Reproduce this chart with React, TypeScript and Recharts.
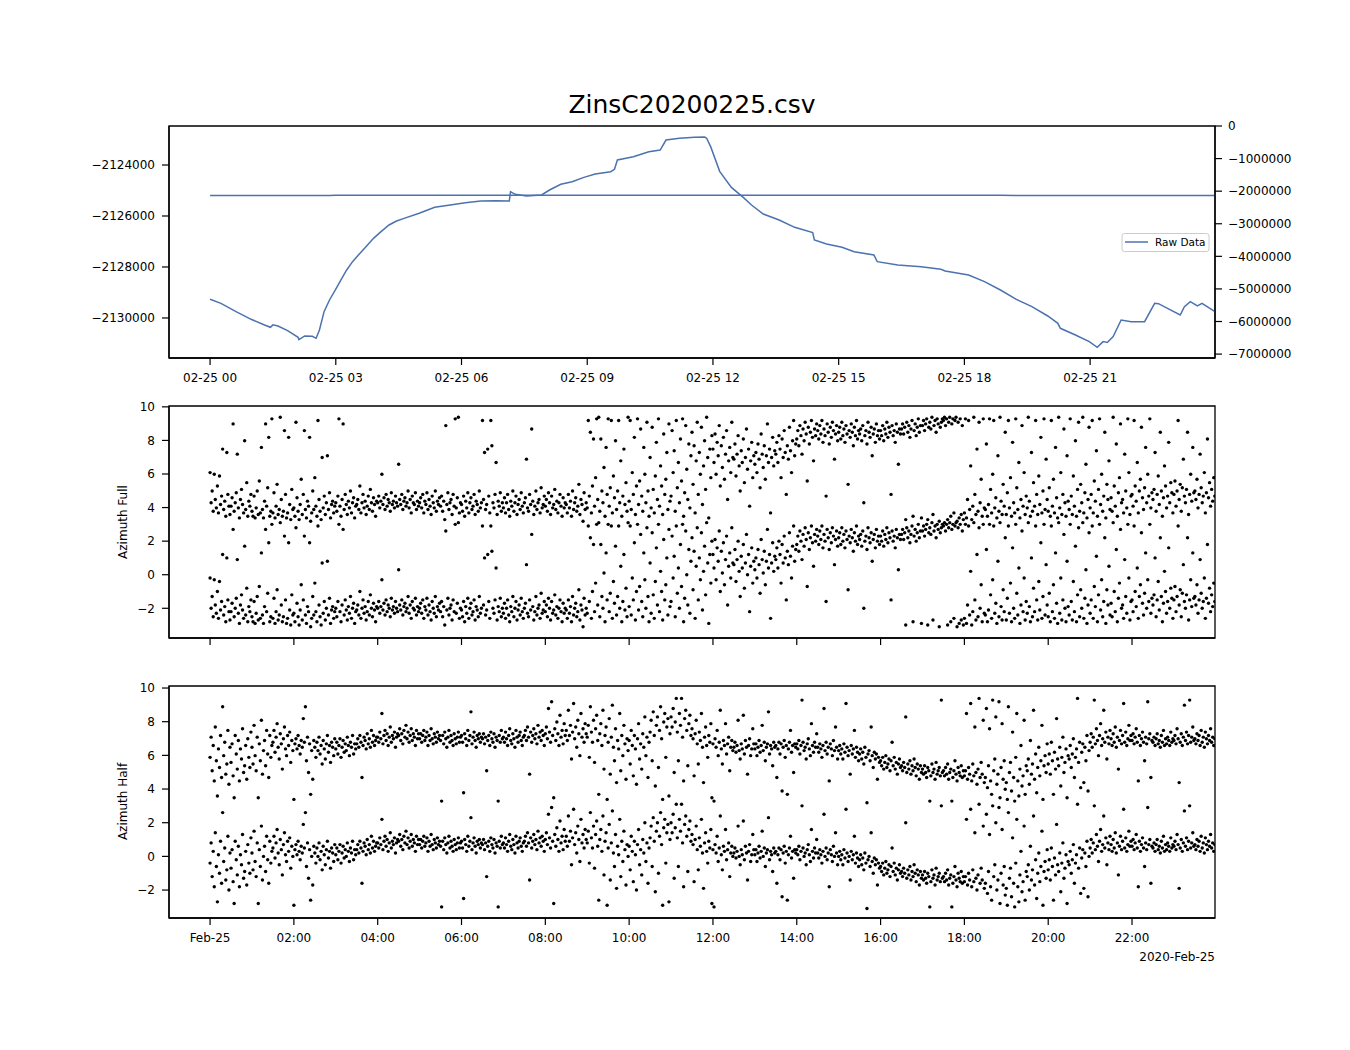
import React from 'react';
import { ComposedChart, ScatterChart, Scatter, Line, XAxis, YAxis, ReferenceArea } from 'recharts';

// ---------- Top panel: raw data (hours since 02-25 00:00, value) ----------
const rawHours = [
  0.0, 0.26, 0.62, 0.98, 1.3, 1.44, 1.5, 1.62, 1.85, 2.1, 2.12, 2.26, 2.44, 2.53, 2.61, 2.72, 2.85, 2.99,
  3.13, 3.26, 3.4, 3.54, 3.72, 3.9, 4.08, 4.27, 4.45, 4.63, 4.99, 5.36, 5.73, 6.09, 6.46, 6.82, 7.14, 7.17, 7.28, 7.55, 7.91,
  8.1, 8.37, 8.64, 8.92, 9.19, 9.56, 9.65, 9.72, 10.1, 10.47, 10.74, 10.88, 11.2, 11.56, 11.8,
  11.85, 11.95, 12.16, 12.44, 12.73, 12.92, 13.2, 13.58, 13.95, 14.38, 14.42, 14.71, 15.08, 15.37,
  15.84, 15.92, 16.41, 16.97, 17.44, 17.54, 18.1, 18.48, 18.86, 19.24, 19.61, 19.99, 20.23, 20.29,
  20.65, 20.98, 21.17, 21.31, 21.41, 21.55, 21.74, 21.98, 22.3, 22.54, 22.63, 23.15, 23.25, 23.39,
  23.56, 23.67, 23.98,
];
const rawValues = [
  -2129268, -2129425, -2129750, -2130052, -2130275, -2130366, -2130270, -2130314, -2130497, -2130758,
  -2130850, -2130706, -2130720, -2130797, -2130470, -2129752, -2129294, -2128902, -2128484, -2128118,
  -2127791, -2127529, -2127203, -2126876, -2126614, -2126353, -2126196, -2126092, -2125895, -2125660,
  -2125569, -2125477, -2125412, -2125399, -2125412, -2125046,
  -2125150, -2125216, -2125176, -2124980, -2124758, -2124654, -2124484, -2124353, -2124261, -2124170,
  -2123804, -2123673, -2123477, -2123412, -2123020, -2122954, -2122915, -2122900, -2122950, -2123300,
  -2124250, -2124880, -2125280, -2125569, -2125922, -2126157, -2126444, -2126653, -2126941, -2127098,
  -2127229, -2127399, -2127529, -2127791, -2127922, -2127987, -2128092, -2128157, -2128314, -2128575,
  -2128902, -2129268, -2129556, -2129922, -2130209, -2130405, -2130667, -2130928, -2131150, -2130928,
  -2130960, -2130732, -2130078, -2130144, -2130144, -2129425, -2129440, -2129882, -2129556, -2129360,
  -2129530, -2129425, -2129752,
];

const topTicks = [0, 3, 6, 9, 12, 15, 18, 21];
const topTickLabels = ['02-25 00', '02-25 03', '02-25 06', '02-25 09', '02-25 12', '02-25 15', '02-25 18', '02-25 21'];
const leftTicks = [-2130000, -2128000, -2126000, -2124000];
const rightTicks = [0, -1000000, -2000000, -3000000, -4000000, -5000000, -6000000, -7000000];

// ---------- Scatter panels: one sample every 1.5 min (40 per hour), 20 per row = half an hour ----------
const SAMPLES_PER_HOUR = 40;
const azimuthFull = [
  -0.2, -2.0, -1.3, -2.5, -0.3, -1.8, -2.3, -1.0, -2.6, -0.4, -2.1, -1.6, 1.2, -2.4, -1.9, -2.8, 1.0, -1.5, -2.2, -2.7,
  -2.2, -1.7, 2.7, -2.5, -2.0, -1.4, 0.9, -2.3, -2.9, -1.8, -1.2, -2.1, -2.6, 1.7, -2.4, -0.8, -2.8, -1.9, -2.2, -1.5,
  -2.5, -2.8, -1.6, -2.9, -2.3, -1.3, -2.7, -0.7, -2.6, 1.3, -2.4, -2.9, -1.9, 2.7, -2.2, -1.1, 1.9, -2.8, -2.5, 3.0,
  -2.6, -1.4, -2.9, -2.2, -0.9, -2.7, -2.4, 3.1, -1.8, -2.8, -2.5, 2.3, -1.5, -2.9, -2.6, 1.9, -2.1, -3.0, -1.2, -2.4,
  -2.3, -2.8, 2.8, -1.7, -2.5, -3.0, -2.1, -0.6, -2.7, -1.5, 2.3, -2.4, -2.9, -1.9, -2.2, 1.9, -3.1, -2.6, -1.3, -2.4,
  -0.5, -2.2, -2.8, 2.9, -1.8, -2.5, -3.0, 0.7, -2.3, -1.6, -2.7, -2.0, 0.8, -2.4, -1.4, -2.9, -2.1, -1.9, -2.6, -2.2,
  -2.0, -2.5, -1.6, 3.0, -2.2, -2.8, -1.8, 2.7, -2.4, -1.5, -2.1, -2.7, -1.9, -2.3, -1.3, -2.6, -2.0, -1.7, -2.9, -2.2,
  -2.1, -1.8, -2.4, -1.0, -2.6, -2.0, -1.5, -2.3, -1.9, -2.7, -2.2, -1.6, -2.4, -1.2, -2.0, -2.5, -1.7, -2.1, -2.8, -1.9,
  -2.0, -1.6, -2.3, -1.9, -0.3, -2.1, -1.7, -2.4, -1.5, -2.2, -1.8, -2.0, -2.5, -1.4, -2.1, -1.9, -2.3, -1.6, -2.0, -2.2,
  0.3, -1.8, -2.1, -1.5, -2.4, -1.9, -1.7, -2.2, -2.0, -1.3, -2.3, -1.8, -2.6, -1.6, -2.0, -2.1, -1.4, -2.4, -1.9, -2.2,
  -2.0, -1.7, -2.3, -1.5, -2.6, -1.9, -2.1, -1.4, -2.4, -1.8, -2.2, -2.7, -1.6, -2.0, -2.3, -1.3, -2.5, -1.9, -2.1, -1.7,
  -2.2, -1.6, -2.5, -1.9, -3.0, 2.6, -2.1, -1.4, -2.4, -2.0, -1.8, -2.7, -1.5, -2.2, 3.0, -2.3, -1.7, 3.1, -2.6, -2.0,
  -2.1, -2.5, -1.6, -2.8, -1.9, -2.3, -1.4, -2.6, -2.0, -1.7, -2.4, -2.2, -1.5, -2.7, -1.9, -2.1, -2.5, -1.3, -2.3, -2.0,
  2.9, -1.8, 1.0, -2.4, -2.1, 1.2, -1.6, -2.6, 2.9, 1.4, -2.0, -2.3, -1.5, 0.4, -2.7, -1.9, -2.2, -1.4, -2.5, -2.0,
  -2.3, -1.7, -2.6, -2.0, -1.5, -2.4, -2.8, -1.9, -2.2, -1.3, -2.5, -2.0, -1.6, -2.7, -2.1, -1.8, -2.4, -1.4, -2.2, -2.6,
  -2.0, -1.7, 0.6, -2.3, -2.5, -1.5, -2.1, 2.4, -1.9, -2.7, -2.2, -1.3, -2.4, -2.0, -1.8, -2.6, -1.1, -2.3, -2.1, -1.6,
  -2.2, -1.8, -2.5, -1.4, -2.0, -2.7, -1.6, -2.3, -2.1, -1.2, -2.4, -1.9, -2.6, -2.0, -1.5, -2.2, -2.8, -1.7, -2.3, -2.0,
  -2.1, -2.6, -1.5, -2.3, -1.9, -2.8, -1.3, -2.4, -2.0, -1.7, -2.5, -2.2, -0.9, -2.7, -1.8, -2.1, -3.1, -1.4, -2.4, -2.0,
  -2.3, 2.9, -1.6, 2.2, -2.6, -1.0, 1.8, -2.2, -0.5, 3.0, -1.8, 3.1, -2.5, 1.8, -1.3, -2.0, 0.1, -2.8, 1.3, -1.5,
  3.0, -2.2, -1.1, 2.9, -2.6, -0.4, -1.7, 1.7, -2.4, -1.3, 2.9, -2.0, 0.5, -2.8, -1.6, 1.2, -2.1, -0.8, -2.5, 3.1,
  -1.9, 2.9, -2.4, -0.2, -1.5, 1.9, -2.7, -1.0, 3.0, -2.1, -0.7, 2.4, -1.6, -2.5, 1.3, -0.3, -2.0, 2.8, -1.3, -2.8,
  0.7, -2.3, 2.5, -1.2, -2.6, -0.4, 1.6, -1.8, 3.0, -2.2, 0.2, -1.0, -2.7, 2.1, -1.5, -0.6, 1.0, -2.4, 2.7, -1.9,
  -1.6, 2.3, -0.2, 1.1, -2.5, 2.9, -1.1, 0.4, -2.0, 1.8, -0.7, 3.0, -2.8, -1.4, 2.6, 0.0, -1.8, 1.5, -2.3, 0.8,
  2.2, -0.9, 1.4, -2.6, 0.5, 2.8, -1.5, 1.0, -0.3, 2.5, -2.1, 0.2, 1.7, -1.2, 3.1, 0.7, -2.9, 1.2, -0.5, 2.0,
  1.2, 0.4, 2.1, -0.3, 1.6, 0.8, 2.6, -1.0, 1.4, 0.1, 1.9, -0.6, 0.9, 2.3, -1.8, 0.5, 1.3, -0.2, 2.8, 0.7,
  0.6, 1.5, -0.4, 0.9, 2.0, 0.2, -1.3, 1.1, 0.4, 1.8, -0.8, 0.7, 2.4, 0.0, 1.2, -2.2, 0.5, 1.6, -0.5, 0.8,
  0.3, 1.0, -0.2, 1.5, 0.6, -1.1, 2.1, 0.9, 0.1, 1.4, -0.6, 0.8, 2.7, 0.4, 1.2, -2.6, 0.7, 1.9, 0.2, 1.1,
  0.9, 1.6, 0.4, 2.0, 1.2, -0.5, 1.8, 0.7, 2.3, 1.0, -1.5, 1.4, 0.6, 2.5, 1.1, -0.2, 1.7, 2.9, 0.8, 1.5,
  1.8, 2.3, 1.4, 2.6, 2.0, 0.9, 2.4, 1.7, 2.8, 2.1, -0.7, 2.5, 1.5, 2.2, 2.9, 1.9, 0.5, 2.4, 2.0, 2.7,
  2.3, 1.8, 2.6, 2.1, 2.9, 1.6, 2.4, 2.0, -1.6, 2.7, 2.2, 1.5, 2.5, 1.9, 2.8, 2.3, 0.6, 2.1, 2.6, 1.7,
  2.2, 2.5, 1.8, 2.8, 2.0, 2.4, 1.6, 2.6, 2.1, -0.9, 2.3, 1.9, 2.7, 2.2, 1.4, 2.5, 2.0, 2.9, 1.8, 2.3,
  2.1, 2.4, 1.7, 2.6, -2.0, 2.0, 2.3, 1.5, 2.8, 2.2, 1.9, 2.5, 0.8, 2.1, 2.4, 1.6, 2.7, 2.0, 2.3, 1.8,
  2.3, 2.0, 2.6, 1.7, 2.4, 2.1, 2.8, 1.9, 2.5, 2.2, -1.5, 2.6, 2.0, 2.3, 1.6, 2.7, 2.2, 0.3, 2.4, 2.1,
  2.4, 2.7, 2.1, 2.5, -3.0, 2.8, 2.2, 2.6, 1.9, 2.4, 2.9, -2.8, 2.3, 2.7, 2.0, 2.5, 3.0, 2.2, 2.6, -2.9,
  2.6, 2.9, 2.3, 2.7, 3.0, -3.0, 2.5, 2.8, 2.4, 3.1, -2.7, 2.6, 2.9, 2.2, 3.0, 2.7, -3.1, 2.5, 2.8, 3.0,
  2.9, 3.1, 2.6, 3.0, -3.0, 2.8, 3.1, -2.8, 2.7, 3.0, -2.6, 2.9, 3.1, -3.1, 2.8, -2.9, 3.0, -2.7, 2.6, -3.0,
  -2.6, 3.0, -2.9, -1.8, 2.9, -2.4, 0.2, -3.0, -2.2, 3.1, -1.5, -2.7, 1.2, -2.5, 2.8, -2.0, -0.6, -2.8, 3.0, -2.3,
  -2.4, 1.5, -2.8, -2.1, 3.0, -1.2, -2.6, -0.3, 2.9, -2.3, -1.7, -2.9, 0.8, -2.5, 3.1, -1.9, -2.7, -0.9, -2.2, 2.2,
  -2.7, -1.4, 2.9, -2.3, -0.5, -2.8, 1.6, -2.0, -2.6, 3.0, -1.1, -2.4, 0.4, -2.9, -1.8, 2.6, -2.2, -0.2, -2.7, -1.6,
  -2.3, 3.1, -1.9, -2.8, 1.0, -2.5, -0.8, -2.2, 2.9, -1.5, -2.7, -0.4, -2.1, 1.9, -2.6, -1.3, 3.0, -2.4, 0.6, -1.8,
  -2.5, -1.1, -2.8, 2.9, -2.2, -0.6, -2.6, 1.3, -1.7, -2.9, 3.1, -2.3, -0.2, -2.7, -1.5, 2.4, -2.0, -2.8, 0.8, -1.9,
  -2.4, 3.0, -1.6, -2.7, -0.4, -2.2, 1.7, -2.8, -1.2, 2.8, -2.5, -0.9, -2.0, 3.1, -2.6, -1.4, 0.3, -2.9, -1.8, 2.5,
  -2.3, -1.5, 2.9, -2.6, -0.7, -1.9, 1.1, -2.8, -1.2, 3.0, -2.1, -0.3, -2.5, -1.6, 2.2, -2.9, -0.9, -1.8, 0.5, -2.4,
  -1.7, -2.5, 3.1, -1.0, -2.2, 1.5, -2.8, -1.4, -0.5, 2.7, -2.0, -1.8, -2.6, 0.9, -1.3, -2.3, 3.0, -0.2, -2.7, -1.6,
  -1.5, -2.2, 2.9, -1.0, -1.9, 0.4, -2.6, -1.3, -0.6, 2.5, -1.7, -2.4, -1.1, 1.3, -2.0, -0.3, -1.6, 3.0, -2.3, -1.4,
  -1.8, -1.2, 1.0, -2.5, -1.5, -0.4, -2.1, 2.2, -1.3, -2.8, -1.7, 0.2, -1.0, -2.3, -1.6, 1.6, -2.0, -0.8, -1.4, -2.6,
  -1.5, -0.7, -2.2, -1.3, 2.9, -1.8, -0.9, -2.5, -1.1, 0.6, -1.6, -2.0, -1.2, 2.2, -2.7, -1.5, -0.3, -1.9, 1.3, -1.4,
  -1.3, -1.8, -0.6, -2.3, -1.5, 0.9, -1.1, -2.0, -1.6, -0.2, -2.6, -1.4, 1.8, -1.7, -0.8, -2.2, -1.2, -1.9, -0.5, -1.6,
];
const azimuthHalf = [
  -0.4, 0.8, -1.2, 0.3, -1.8, 1.4, -0.6, -2.7, 0.1, -1.0, 0.9, -1.6, 2.6, -0.3, 0.5, -1.4, -0.8, 1.2, -2.0, 0.2,
  -0.7, 0.4, -1.5, -2.8, 0.9, -0.2, -1.1, 0.6, -1.8, 0.1, -0.5, 1.3, -1.3, -0.9, 0.3, -1.7, 0.7, -0.4, -1.0, 1.1,
  0.2, -0.8, 1.5, -0.3, -1.2, 0.8, -2.8, 0.4, -0.6, 1.8, -1.4, 0.0, 0.6, -0.9, 1.2, -0.2, -1.6, 0.9, -0.4, 0.3,
  0.5, 1.2, -0.1, 0.8, 1.6, 0.2, -0.5, 1.0, 0.4, -1.1, 0.7, 1.4, 0.1, -0.3, 0.9, 0.3, 1.1, -0.7, 0.6, 0.0,
  -2.9, 0.4, 0.7, 0.1, 0.9, 0.3, -0.2, 0.6, 0.2, 1.9, 0.5, 2.6, -0.6, 0.8, -1.3, 0.4, -2.6, 0.0, -1.7, 0.6,
  0.2, -0.4, 0.5, 0.0, 0.8, -0.2, 0.3, -0.8, 0.6, 0.1, -0.5, 0.4, 0.9, -0.1, 0.3, -0.7, 0.5, 0.2, -0.3, 0.7,
  0.1, 0.5, -0.2, 0.3, 0.7, -0.4, 0.2, 0.6, -0.1, 0.4, 0.0, 0.8, 0.3, -0.3, 0.5, 0.2, 0.9, -0.2, 0.4, 0.1,
  0.4, 0.7, 0.2, 0.9, 0.5, -1.6, 0.3, 0.8, 0.6, 0.1, 1.0, 0.4, 0.7, 0.2, 1.2, 0.5, 0.9, 0.3, 0.6, 0.8,
  0.8, 0.5, 1.1, 0.7, 2.2, 0.4, 0.9, 1.2, 0.6, 1.0, 0.3, 0.8, 1.4, 0.5, 0.9, 0.7, 1.1, 0.2, 0.8, 1.0,
  0.9, 1.3, 0.6, 1.0, 0.4, 1.2, 0.8, 1.5, 0.7, 1.1, 0.5, 0.9, 1.3, 0.6, 1.0, 0.8, 0.3, 1.2, 0.7, 1.0,
  0.7, 1.0, 0.5, 0.9, 1.2, 0.6, 0.8, 1.1, 0.3, 0.9, 0.6, 1.3, 0.7, 0.4, 1.0, 0.8, 0.5, 1.1, 0.7, 0.9,
  0.6, -3.0, 0.9, 0.4, 1.1, 0.7, 0.2, 0.8, 1.2, 0.5, 0.9, 0.6, 0.3, 1.0, 0.7, 0.4, 0.8, 1.1, 0.5, 0.8,
  0.9, 0.5, -2.5, 1.0, 0.7, 0.3, 1.2, 0.6, 0.9, 2.3, 0.4, 0.8, 1.1, 0.6, 0.2, 0.9, 0.7, 1.0, 0.5, 0.8,
  0.7, 1.0, 0.4, 0.8, -1.2, 0.6, 0.9, 0.3, 1.1, 0.7, 0.5, 1.0, 0.2, 0.8, 0.6, -3.0, 0.9, 0.5, 1.2, 0.7,
  0.8, 0.5, 1.1, 0.7, 0.3, 0.9, 1.3, 0.6, 0.4, 1.0, 0.7, 0.2, 1.2, 0.8, 0.5, 0.9, 1.1, 0.6, 0.3, 0.8,
  0.9, 1.2, 0.6, 1.4, 0.8, -1.4, 1.1, 0.5, 0.9, 1.3, 0.7, 1.0, 0.4, 1.5, 0.8, 1.1, 0.6, 1.2, 0.9, 0.3,
  1.0, 1.4, 0.7, 2.5, 1.1, 0.5, 2.9, 0.9, -2.8, 1.3, 0.6, 1.7, 1.0, 0.3, 2.1, 0.8, 1.2, 0.4, 1.6, 0.9,
  1.2, 0.6, 2.4, 0.9, 1.5, -0.5, 1.1, 2.8, 0.7, 1.4, 0.2, 1.8, 1.0, -0.3, 2.2, 0.8, 1.3, 0.5, 1.6, 1.0,
  0.8, 1.5, -0.4, 2.6, 1.1, 0.5, 1.8, -0.7, 1.3, 2.1, 0.6, -2.6, 1.0, 1.6, 0.3, 2.4, -1.1, 0.9, 1.4, -2.9,
  0.5, 1.9, -1.4, 0.8, 2.7, 0.2, -0.6, 1.3, -1.9, 0.6, 0.1, 2.2, -1.2, 0.9, -0.3, 1.5, 0.4, -1.7, 0.7, 0.0,
  0.6, -0.8, 1.2, 0.3, -1.5, 0.9, 0.1, -2.0, 0.7, 1.6, -0.5, 0.4, -1.1, 1.0, 0.2, 2.0, -0.3, 0.8, -1.6, 0.5,
  1.1, 1.8, -0.6, 2.3, 0.9, -2.1, 1.5, 2.0, -1.0, 1.2, 2.6, 0.7, -2.9, 1.7, 2.2, -0.4, 1.4, 1.9, -2.7, 1.0,
  2.0, 1.4, 2.5, -1.3, 1.7, 3.1, 1.1, -0.6, 2.2, 1.5, 3.1, 0.8, -1.8, 1.9, 2.4, 1.2, -0.9, 1.6, 2.1, 0.9,
  1.3, 0.7, -1.5, 1.0, 1.8, 0.4, -0.8, 1.1, 0.6, 2.2, 0.2, -1.9, 0.8, 1.4, 0.3, -0.4, 0.9, 0.5, 1.6, -2.8,
  0.4, -3.0, 0.7, 0.2, 1.2, -0.3, 0.5, 2.4, 0.1, -0.8, 0.6, 0.3, 1.6, -0.2, 0.4, 0.8, -1.2, 0.2, 0.6, 0.0,
  0.2, 0.5, -0.1, 0.3, 1.8, 0.0, -0.5, 0.4, 0.1, 2.1, -0.2, 0.6, 0.2, -1.4, 0.3, 0.7, -0.3, 0.1, 1.3, 0.4,
  0.1, 0.4, -0.3, 0.2, 0.6, -0.1, 0.3, 1.5, 0.0, 0.5, -0.6, 0.2, 0.4, 2.3, -0.2, 0.3, 0.1, -0.9, 0.5, 0.2,
  0.3, -1.6, 0.1, 0.5, -0.2, 0.4, -2.4, 0.2, 0.6, -0.4, 0.3, -2.6, 0.1, 0.5, 1.2, -0.1, 0.3, -1.3, 0.4, 0.2,
  0.4, 0.1, 0.6, -0.2, 0.3, 3.0, 0.5, 0.0, 0.2, -0.5, 0.4, 0.7, 0.1, -0.3, 1.6, 0.3, -0.1, 0.5, 0.2, 1.0,
  0.2, -0.1, 0.4, 0.1, -0.4, 0.3, 2.5, 0.0, 0.5, -0.2, 0.2, -1.8, 0.4, 0.1, -0.3, 0.6, 0.0, 1.4, 0.2, -0.5,
  0.0, 0.3, -0.2, 0.1, -0.5, 0.4, -0.1, 2.8, 0.2, -0.3, 0.0, -1.4, 0.3, -0.2, 0.1, 1.2, -0.4, 0.2, -0.1, -0.6,
  -0.2, 0.1, -0.5, -0.1, -0.8, 0.2, -0.4, -3.1, -0.2, 0.0, -0.6, 1.4, -0.3, -1.0, -0.1, -0.5, -0.2, -1.7, -0.4, -0.7,
  -0.6, -0.9, -0.4, -1.1, -0.7, -0.3, -1.0, -0.8, -0.5, -1.2, -0.6, 0.5, -0.9, -0.4, -1.1, -0.7, -1.4, -0.8, -0.5, -1.0,
  -0.9, -1.2, -0.7, -1.0, 2.0, -1.3, -0.8, -1.1, -0.6, -1.4, -0.9, -1.2, -0.5, -1.0, -1.5, -0.8, -1.1, -1.7, -0.9, -1.3,
  -1.1, -1.4, -0.9, -1.3, -1.6, -1.0, -1.2, -3.0, -1.5, -0.8, -1.3, -1.1, -1.7, -0.7, -1.4, -1.2, -1.0, -1.5, 3.0, -1.3,
  -1.2, -1.5, -1.0, -1.4, -0.8, -1.7, -1.3, -1.1, -3.0, -1.6, -1.2, -0.6, -1.4, -1.8, -1.0, -1.3, -1.5, -0.9, -1.6, -1.2,
  -1.5, -1.2, 2.2, -1.7, -1.0, -1.4, 2.8, -1.8, -0.8, -1.5, 1.4, -1.3, -2.0, -1.1, 3.1, -1.6, -0.7, -1.4, 1.8, -1.9,
  -1.6, 2.5, -2.2, -0.9, 1.3, -1.8, -2.6, 3.0, -1.2, -0.5, 2.0, -2.0, -1.4, 2.9, -2.8, -1.0, 1.6, -1.7, -0.6, -2.3,
  -1.9, -2.9, 2.6, -1.3, -0.7, -2.4, 1.1, -1.6, -3.0, -0.4, 2.2, -1.8, -2.7, -1.1, 0.3, -2.1, -1.5, 1.8, -2.6, -0.9,
  -1.2, -0.5, -2.0, 0.6, -1.4, -0.8, 2.4, -1.7, -0.2, -2.5, -1.0, 0.2, -1.5, -0.6, 1.5, -2.9, -0.9, -0.3, -1.3, 0.4,
  -0.8, -0.2, -1.4, 0.5, -0.6, -2.6, -0.1, -1.1, 1.9, -0.5, -0.9, 0.2, -2.1, -0.4, 0.8, -1.3, -0.7, 0.1, -2.8, -0.3,
  -0.5, 0.3, -1.0, -0.2, 0.7, -1.6, -0.4, 0.1, 3.1, -0.7, 0.5, -2.2, -0.1, 0.4, -1.9, 0.2, -0.6, 0.9, -2.4, 0.0,
  0.5, 1.0, 0.2, 0.8, 3.0, 0.4, 1.3, 0.6, -0.3, 0.9, 1.6, 0.3, 0.7, 2.4, 0.5, 1.1, -0.5, 0.8, 0.4, 1.2,
  0.7, 0.3, 1.0, 0.5, 1.4, 0.2, 0.8, -1.1, 0.6, 1.2, 0.4, 0.9, 2.8, 0.5, 1.1, 0.3, 0.7, 1.5, 0.6, 0.9,
  0.6, 1.0, 0.4, 0.8, 1.3, 0.5, -1.8, 0.9, 0.3, 0.7, 1.1, 0.5, -0.6, 0.8, 0.4, 2.9, 0.7, 1.0, -1.6, 0.6,
  0.5, 0.8, 0.3, 0.7, 1.0, 0.4, 0.6, 0.2, 0.9, 0.5, 1.2, 0.3, 0.7, 0.4, 0.8, 0.6, 0.3, 1.1, 0.5, 0.7,
  0.6, 0.9, 0.4, 1.3, 0.7, -1.9, 0.5, 1.0, 0.3, 0.8, 2.7, 0.6, 1.1, 0.4, 0.9, 3.0, 0.5, 0.8, 1.4, 0.6,
  0.7, 0.4, 1.0, 0.6, 0.9, 0.3, 1.2, 0.5, 0.8, 0.2, 1.1, 0.7, 0.4, 0.9, 0.6, 1.3, 0.5, 0.8, 0.3, 0.7,
];

const scatterTicks = [0, 2, 4, 6, 8, 10, 12, 14, 16, 18, 20, 22];
const scatterTickLabels = ['Feb-25', '02:00', '04:00', '06:00', '08:00', '10:00', '12:00', '14:00', '16:00', '18:00', '20:00', '22:00'];
const azimuthTicks = [-2, 0, 2, 4, 6, 8, 10];

// ---------- derived tables ----------
const X_DOMAIN: [number, number] = [-0.98, 23.98];
const LEFT_DOMAIN: [number, number] = [-2131570, -2122470];
const RIGHT_DOMAIN: [number, number] = [-7120000, 0];
const FULL_DOMAIN: [number, number] = [-3.77, 10.05];
const HALF_DOMAIN: [number, number] = [-3.66, 10.12];

const rawData = rawHours.map((t, i) => ({ t, v: rawValues[i] }));

// each angle is drawn once as measured and once shifted by a full turn (2π), as in the source figure
const toPoints = (vals: number[]) => {
  const pts: { t: number; v: number }[] = [];
  vals.forEach((v, i) => {
    const t = i / SAMPLES_PER_HOUR;
    pts.push({ t, v });
    pts.push({ t, v: v + 2 * Math.PI });
  });
  return pts;
};
const fullPoints = toPoints(azimuthFull);
const halfPoints = toPoints(azimuthHalf);

const FONT = 'DejaVu Sans, sans-serif';
const LINE_COLOR = '#4c72b0';
const tickStyle = { fill: '#000', fontSize: 12, fontFamily: FONT };
const tickLineStyle = { stroke: '#000', strokeWidth: 1.2 };
const axisLineStyle = { stroke: '#000', strokeWidth: 1.3 };
const minus = (v: number) => String(v).replace('-', '\u2212');

const Dot = (props: any) => <circle cx={props.cx} cy={props.cy} r={1.7} fill="#000" />;

function ScatterPanel({ points, domain, showLabels }: { points: { t: number; v: number }[]; domain: [number, number]; showLabels: boolean }) {
  return (
    <ScatterChart width={1350} height={300} margin={{ top: 26, right: 135, bottom: 0, left: 0 }}>
      <XAxis
        type="number"
        dataKey="t"
        domain={X_DOMAIN}
        allowDataOverflow
        ticks={scatterTicks}
        tickFormatter={(v: number) => (showLabels ? scatterTickLabels[scatterTicks.indexOf(v)] ?? '' : '')}
        height={42}
        tick={tickStyle}
        tickLine={tickLineStyle}
        axisLine={axisLineStyle}
        tickSize={7}
        tickMargin={8}
        interval={0}
      />
      <YAxis
        type="number"
        dataKey="v"
        domain={domain}
        allowDataOverflow
        ticks={azimuthTicks}
        tickFormatter={minus}
        width={169}
        tick={tickStyle}
        tickLine={tickLineStyle}
        axisLine={axisLineStyle}
        tickSize={7}
        tickMargin={7}
        interval={0}
      />
      <ReferenceArea x1={X_DOMAIN[0]} x2={X_DOMAIN[1]} y1={domain[0]} y2={domain[1]} fill="none" stroke="#000" strokeWidth={1.3} />
      <Scatter data={points} shape={Dot} isAnimationActive={false} />
    </ScatterChart>
  );
}

export default function App() {
  return (
    <div style={{ position: 'absolute', left: 0, top: 0, width: 1350, height: 1050, background: '#fff', fontFamily: FONT }}>
      <div style={{ position: 'absolute', left: 0, top: 100 }}>
        <ComposedChart width={1350} height={300} data={rawData} margin={{ top: 26, right: 0, bottom: 0, left: 0 }}>
          <XAxis
            type="number"
            dataKey="t"
            domain={X_DOMAIN}
            allowDataOverflow
            ticks={topTicks}
            tickFormatter={(v: number) => topTickLabels[topTicks.indexOf(v)] ?? ''}
            height={42}
            tick={tickStyle}
            tickLine={tickLineStyle}
            axisLine={axisLineStyle}
            tickSize={7}
            tickMargin={8}
            interval={0}
          />
          <YAxis
            yAxisId="left"
            orientation="left"
            type="number"
            domain={LEFT_DOMAIN}
            allowDataOverflow
            ticks={leftTicks}
            tickFormatter={minus}
            width={169}
            tick={tickStyle}
            tickLine={tickLineStyle}
            axisLine={axisLineStyle}
            tickSize={7}
            tickMargin={7}
            interval={0}
          />
          <YAxis
            yAxisId="right"
            orientation="right"
            type="number"
            domain={RIGHT_DOMAIN}
            allowDataOverflow
            ticks={rightTicks}
            tickFormatter={minus}
            width={135}
            tick={{ ...tickStyle, textAnchor: 'start' }}
            tickLine={tickLineStyle}
            axisLine={axisLineStyle}
            tickSize={7}
            tickMargin={6}
            interval={0}
          />
          <ReferenceArea yAxisId="left" x1={X_DOMAIN[0]} x2={X_DOMAIN[1]} y1={LEFT_DOMAIN[0]} y2={LEFT_DOMAIN[1]} fill="none" stroke="#000" strokeWidth={1.3} />
          <Line yAxisId="right" type="linear" dataKey="v" stroke={LINE_COLOR} strokeWidth={1.5} dot={false} isAnimationActive={false} />
          <Line yAxisId="left" type="linear" dataKey="v" stroke={LINE_COLOR} strokeWidth={1.5} dot={false} isAnimationActive={false} />
        </ComposedChart>
      </div>
      <div style={{ position: 'absolute', left: 0, top: 380 }}>
        <ScatterPanel points={fullPoints} domain={FULL_DOMAIN} showLabels={false} />
      </div>
      <div style={{ position: 'absolute', left: 0, top: 660 }}>
        <ScatterPanel points={halfPoints} domain={HALF_DOMAIN} showLabels={true} />
      </div>
      <svg width={1350} height={1050} style={{ position: 'absolute', left: 0, top: 0, pointerEvents: 'none' }}>
        <text x={692} y={113} textAnchor="middle" fontSize={25} fontFamily={FONT} fill="#000">ZinsC20200225.csv</text>
        <text transform="translate(126.5,522) rotate(-90)" textAnchor="middle" fontSize={12} fontFamily={FONT} fill="#000">Azimuth Full</text>
        <text transform="translate(126.5,801.5) rotate(-90)" textAnchor="middle" fontSize={12} fontFamily={FONT} fill="#000">Azimuth Half</text>
        <text x={1215} y={960.5} textAnchor="end" fontSize={12} fontFamily={FONT} fill="#000">2020-Feb-25</text>
        <rect x={1122} y={233.5} width={87} height={18} rx={2.5} fill="#fff" fillOpacity={0.8} stroke="#cccccc" strokeWidth={1} />
        <line x1={1125} y1={242} x2={1148} y2={242} stroke={LINE_COLOR} strokeWidth={1.5} />
        <text x={1155} y={245.8} fontSize={10.5} fontFamily={FONT} fill="#000">Raw Data</text>
      </svg>
    </div>
  );
}
